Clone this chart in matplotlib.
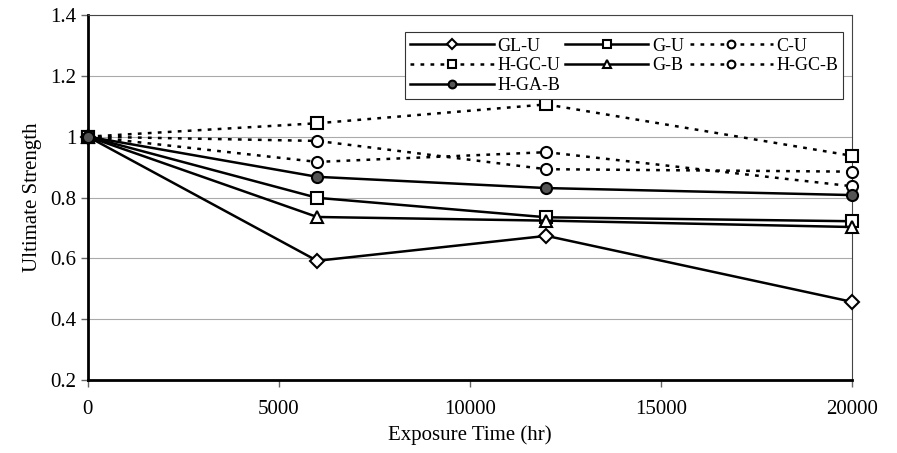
import numpy as np
from matplotlib import pyplot as plt

plt.rcParams['font.family'] = ['Liberation Serif', 'DejaVu Serif']

hours = [0, 6000, 12000, 20000]
gl_u = [1.0, 0.592, 0.674, 0.457]
g_u = [1.0, 0.799, 0.735, 0.722]
c_u = [1.0, 0.986, 0.893, 0.885]
h_gc_u = [1.0, 1.044, 1.106, 0.937]
g_b = [1.0, 0.736, 0.724, 0.703]
h_gc_b = [1.0, 0.917, 0.949, 0.837]
h_ga_b = [1.0, 0.868, 0.831, 0.808]

dots = (0, (1.5, 2.5))
series = [
    ('GL-U', gl_u, '-', 'D', 'white', 7),
    ('G-U', g_u, '-', 's', 'white', 8),
    ('C-U', c_u, dots, 'o', 'white', 8),
    ('H-GC-U', h_gc_u, dots, 's', 'white', 8),
    ('G-B', g_b, '-', '^', 'white', 9),
    ('H-GC-B', h_gc_b, dots, 'o', 'white', 8),
    ('H-GA-B', h_ga_b, '-', 'o', '#555555', 8),
]

fig = plt.figure(figsize=(8.97, 4.53), dpi=100)
ax = fig.add_axes([0.098, 0.161, 0.852, 0.806])

lines = {}
for name, vals, ls, mk, fc, ms in series:
    ln, = ax.plot(hours, vals, linestyle=ls, color='black', linewidth=1.8,
                  marker=mk, markersize=ms, markerfacecolor=fc, markeredgecolor='black',
                  markeredgewidth=1.5, label=name, clip_on=False, zorder=3,
                  dash_capstyle='butt')
    lines[name] = ln

ax.set_xlim(0, 20000)
ax.set_ylim(0.2, 1.4)
ax.set_xticks([0, 5000, 10000, 15000, 20000])
ax.set_yticks([0.2, 0.4, 0.6, 0.8, 1.0, 1.2, 1.4])
ax.set_yticklabels(['0.2', '0.4', '0.6', '0.8', '1', '1.2', '1.4'])
ax.tick_params(labelsize=15, direction='out', length=5, width=1, color='#666666')
ax.tick_params(axis='x', pad=9)
ax.yaxis.grid(True, color='#aaaaaa', linewidth=0.8)
ax.set_axisbelow(True)
ax.set_xlabel('Exposure Time (hr)', fontsize=15, labelpad=5)
ax.set_ylabel('Ultimate Strength', fontsize=15, labelpad=6)

ax.spines['left'].set_linewidth(2)
ax.spines['bottom'].set_linewidth(2)
ax.spines['top'].set_color('#444444')
ax.spines['right'].set_color('#444444')

# matplotlib fills legend columns first, so order for row-wise reading
order = ['GL-U', 'H-GC-U', 'H-GA-B', 'G-U', 'G-B', 'C-U', 'H-GC-B']
leg = ax.legend([lines[n] for n in order], order, ncol=3, loc='upper left',
                bbox_to_anchor=(0.415, 0.953), markerscale=0.7,
                fontsize=13, frameon=True, fancybox=False, edgecolor='#333333',
                framealpha=1, handlelength=4.6, handletextpad=0.2, columnspacing=0.3,
                labelspacing=0.15, borderpad=0.3, borderaxespad=0)
leg.get_frame().set_linewidth(0.8)

fig.savefig('out.png', dpi=100)
